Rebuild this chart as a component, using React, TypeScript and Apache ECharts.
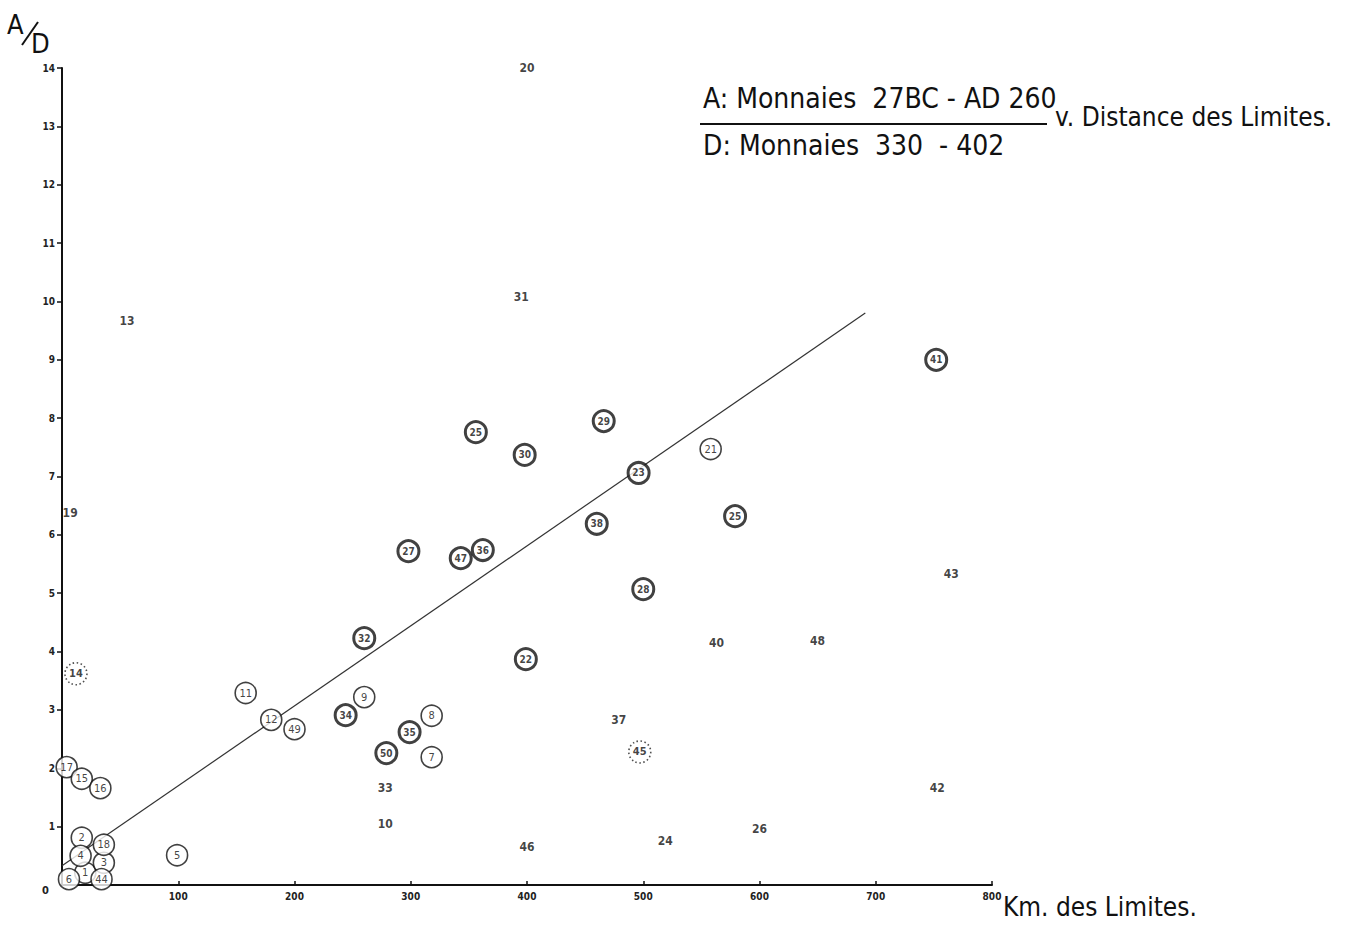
import React, { useEffect, useRef } from "react";
import * as echarts from "echarts";

// Open circled points
const openLabels = ["1", "2", "3", "4", "5", "6", "44", "18", "17", "15", "16", "11", "12", "49", "9", "8", "7", "21"];
const openKm = [20, 17, 36, 16, 99, 6, 34, 36, 4, 17, 33, 158, 180, 200, 260, 318, 318, 558];
const openRatio = [0.21, 0.81, 0.38, 0.5, 0.51, 0.1, 0.1, 0.69, 2.02, 1.82, 1.66, 3.29, 2.83, 2.67, 3.22, 2.9, 2.19, 7.47];

// Bold circled points
const boldLabels = ["34", "35", "50", "32", "27", "47", "36", "25", "30", "29", "23", "38", "25", "28", "22", "41"];
const boldKm = [244, 299, 279, 260, 298, 343, 362, 356, 398, 466, 496, 460, 579, 500, 399, 752];
const boldRatio = [2.91, 2.62, 2.26, 4.23, 5.72, 5.6, 5.74, 7.76, 7.37, 7.95, 7.06, 6.19, 6.32, 5.07, 3.87, 9.0];

// Plain (uncircled) numbers
const plainLabels = ["20", "31", "13", "19", "43", "40", "48", "37", "33", "42", "10", "26", "24", "46"];
const plainKm = [400, 395, 56, 7, 765, 563, 650, 479, 278, 753, 278, 600, 519, 400];
const plainRatio = [14.0, 10.08, 9.66, 6.37, 5.33, 4.15, 4.18, 2.83, 1.66, 1.66, 1.05, 0.96, 0.75, 0.65];

// Dotted circled points
const dottedLabels = ["14", "45"];
const dottedKm = [12, 497];
const dottedRatio = [3.62, 2.28];

// Regression line
const trendKm = [0, 691];
const trendRatio = [0.33, 9.8];

const FONT = "'Liberation Sans Narrow', 'DejaVu Sans Condensed', 'Liberation Sans', sans-serif";

const zip = (labels: string[], xs: number[], ys: number[]) =>
  labels.map((l, i) => ({ value: [xs[i], ys[i]], name: l }));

export default function App() {
  const ref = useRef<HTMLDivElement>(null);
  useEffect(() => {
    document.body.style.margin = "0";
    const chart = echarts.init(ref.current!, null, { renderer: "svg" });
    const labelBase = {
      show: true,
      position: "inside",
      formatter: (p: any) => p.name,
      color: "#111",
      fontFamily: FONT,
      fontWeight: "bold",
    };
    chart.setOption({
      animation: false,
      backgroundColor: "#ffffff",
      grid: { left: 62, right: 355, top: 68, bottom: 40 },
      xAxis: {
        type: "value",
        min: 0,
        max: 800,
        interval: 100,
        axisLine: { show: true, onZero: false, lineStyle: { color: "#111", width: 2 } },
        axisTick: { show: true, inside: true, length: 4, lineStyle: { color: "#111", width: 1.5 } },
        axisLabel: {
          show: true,
          showMinLabel: false,
          color: "#222",
          fontSize: 10,
          fontWeight: "bold",
          fontFamily: FONT,
          margin: 6,
        },
        splitLine: { show: false },
      },
      yAxis: {
        type: "value",
        min: 0,
        max: 14,
        interval: 1,
        axisLine: { show: true, onZero: false, lineStyle: { color: "#111", width: 2 } },
        axisTick: { show: true, inside: false, length: 5, lineStyle: { color: "#111", width: 1.5 } },
        axisLabel: {
          show: true,
          showMinLabel: false,
          color: "#222",
          fontSize: 10,
          fontWeight: "bold",
          fontFamily: FONT,
          margin: 7,
        },
        splitLine: { show: false },
      },
      series: [
        {
          type: "line",
          data: trendKm.map((x, i) => [x, trendRatio[i]]),
          showSymbol: false,
          lineStyle: { color: "#333", width: 1.2 },
          z: 1,
          silent: true,
        },
        {
          type: "scatter",
          data: zip(openLabels, openKm, openRatio),
          symbol: "circle",
          symbolSize: 21,
          itemStyle: { color: "#fff", borderColor: "#111", borderWidth: 1.6 },
          label: { ...labelBase, fontSize: 11, fontWeight: "normal" },
          z: 3,
        },
        {
          type: "scatter",
          data: zip(boldLabels, boldKm, boldRatio),
          symbol: "circle",
          symbolSize: 21,
          itemStyle: { color: "#fff", borderColor: "#111", borderWidth: 3 },
          label: { ...labelBase, fontSize: 10 },
          z: 3,
        },
        {
          type: "scatter",
          data: zip(plainLabels, plainKm, plainRatio),
          symbolSize: 1,
          clip: false,
          itemStyle: { color: "transparent" },
          label: { ...labelBase, fontSize: 12 },
          z: 3,
        },
        {
          type: "scatter",
          data: zip(dottedLabels, dottedKm, dottedRatio),
          symbol: "circle",
          symbolSize: 22,
          itemStyle: { color: "#fff", borderColor: "#222", borderWidth: 1.6, borderType: [1.5, 2.5] },
          label: { ...labelBase, fontSize: 11 },
          z: 3,
        },
      ],
      graphic: [
        { type: "text", left: 42, top: 885, style: { text: "0", font: `bold 11px ${FONT}`, fill: "#222" } },
        { type: "text", x: 7, y: 11, style: { text: "A", font: `27px ${FONT}`, fill: "#111" } },
        { type: "line", shape: { x1: 22, y1: 45, x2: 38, y2: 22 }, style: { stroke: "#111", lineWidth: 2 } },
        { type: "text", x: 31, y: 30, style: { text: "D", font: `27px ${FONT}`, fill: "#111" } },
        { type: "text", x: 703, y: 84, style: { text: "A: Monnaies  27BC - AD 260", font: `28px ${FONT}`, fill: "#111" } },
        { type: "line", shape: { x1: 700, y1: 124, x2: 1047, y2: 124 }, style: { stroke: "#111", lineWidth: 2 } },
        { type: "text", x: 703, y: 131, style: { text: "D: Monnaies  330  - 402", font: `28px ${FONT}`, fill: "#111" } },
        { type: "text", x: 1055, y: 104, style: { text: "v. Distance des Limites.", font: `26px ${FONT}`, fill: "#111" } },
        { type: "text", x: 1003, y: 894, style: { text: "Km. des Limites.", font: `26px ${FONT}`, fill: "#111" } },
      ],
    });
    return () => chart.dispose();
  }, []);
  return <div ref={ref} style={{ width: 1347, height: 925 }} />;
}
